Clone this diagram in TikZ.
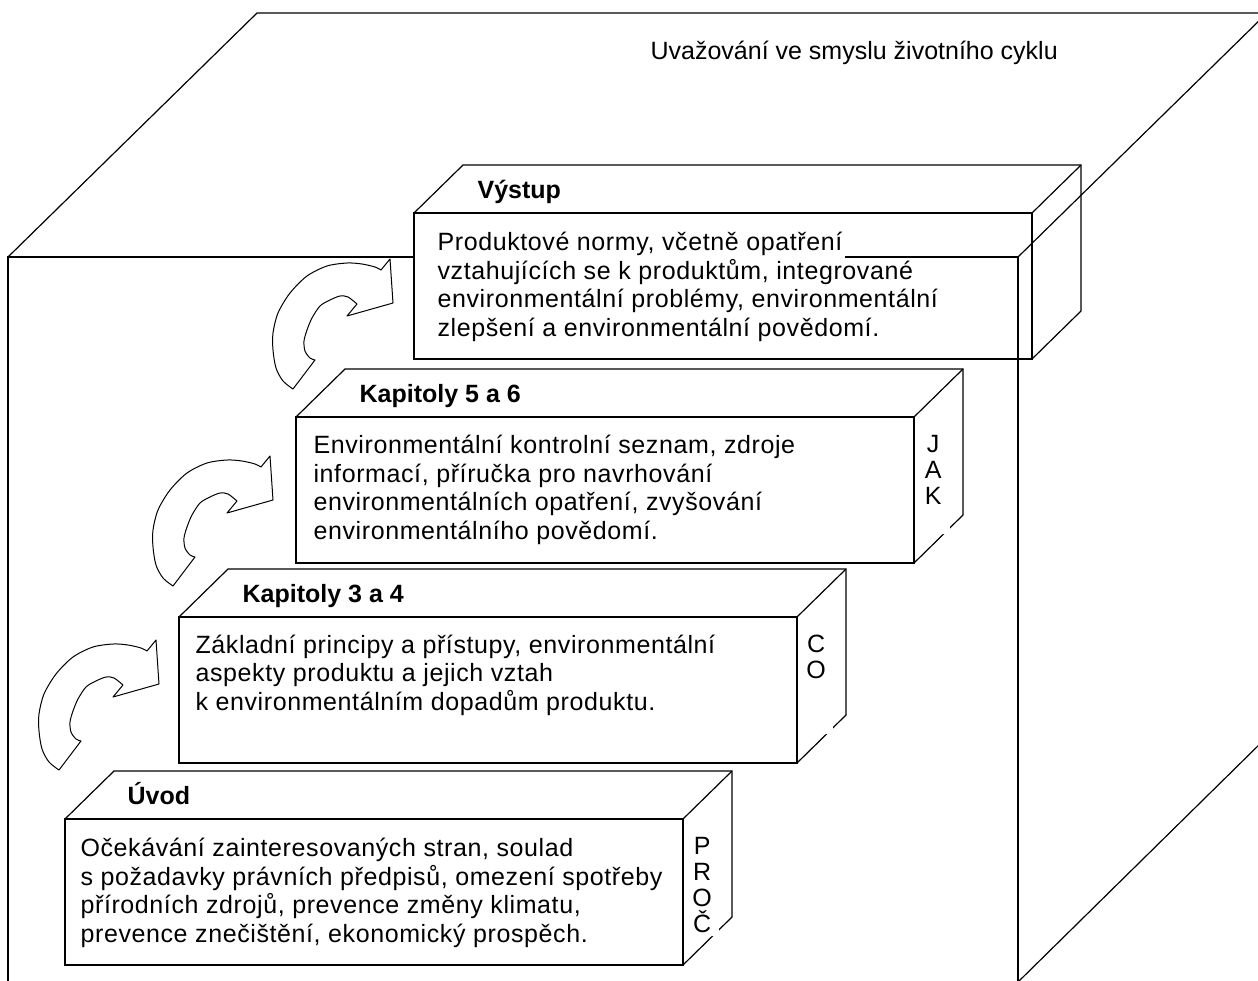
\documentclass[tikz,border=0pt]{standalone}
\usepackage{fontspec}
\setmainfont{Liberation Sans}
\newfontfamily\bodyfont[LetterSpace=2.4]{Liberation Sans}
\usetikzlibrary{positioning}

% letters on the side face of a step
\newcommand{\sidetext}[1]{\parbox[t][113pt][t]{33pt}{\centering\rule{0pt}{32pt}#1}}

\begin{document}
\begin{tikzpicture}[
    x=1pt, y=-1pt,
    line width=1.2pt,
    every node/.style={
        font=\fontsize{25}{28.5}\selectfont
    },
    front/.style={
        draw,
        rectangle,
        anchor=north west,
        minimum width=618pt,
        minimum height=146pt,
        inner sep=0pt,
        outer sep=0pt
    },
    title/.style={
        anchor=base west,
        inner sep=0pt,
        font=\fontsize{25}{28.5}\selectfont\bfseries
    },
    body/.style={
        anchor=base west,
        align=left,
        inner sep=0pt,
        font=\bodyfont\fontsize{25}{28.5}\selectfont
    },
    sidetag/.style={
        anchor=north west,
        inner sep=0pt,
        fill=white,
        font=\fontsize{25}{26}\selectfont
    },
    turn/.style={line width=1pt, line join=round}
]
\useasboundingbox (0,0) rectangle (1258,980);

%-----------------------------------------------
% OUTER CUBE: life cycle
%-----------------------------------------------
\draw (8,982) -- (8,257) -- (414,257);
\draw (845,257) -- (1018,257) -- (1018,982) -- (8,982);
\draw (8,257) -- (257,13) -- (1267,13);
\draw (1018,257) -- (1267,13) -- (1267,737) -- (1018,982);

\node[anchor=base west, inner sep=0pt] (lifecycle) at (650,59)
    {Uvažování ve smyslu životního cyklu};

%-----------------------------------------------
% STEPS: front faces
%-----------------------------------------------
\node[front] (vystup) at (414,213) {};
\node[front] (kap56)  at (296,417) {};
\node[front] (kap34)  at (179,617) {};
\node[front] (uvod)   at (65,819)  {};

% top and side faces
\foreach \b in {vystup, kap56, kap34, uvod} {
    \draw (\b.north west) -- ++(49,-48) -- ++(618,0) -- ++(0,146) -- (\b.south east);
    \draw (\b.north east) -- ++(49,-48);
}

%-----------------------------------------------
% TITLES
%-----------------------------------------------
\node[title] (vystupT) at ([shift={(63,-15)}]vystup.north west) {Výstup};
\node[title] (kap56T)  at ([shift={(63,-15)}]kap56.north west)  {Kapitoly 5 a 6};
\node[title] (kap34T)  at ([shift={(63,-15)}]kap34.north west)  {Kapitoly 3 a 4};
\node[title] (uvodT)   at ([shift={(62,-15)}]uvod.north west)   {Úvod};

%-----------------------------------------------
% TEXTS (anchored on the last line)
%-----------------------------------------------
\node[body] (vystupB) at ([shift={(23,123)}]vystup.north west)
    {Produktové normy, včetně opatření\\
     vztahujících se k produktům, integrované\\
     environmentální problémy, environmentální\\
     zlepšení a environmentální povědomí.};

\node[body] (kap56B) at ([shift={(17,122)}]kap56.north west)
    {Environmentální kontrolní seznam, zdroje\\
     informací, příručka pro navrhování\\
     environmentálních opatření, zvyšování\\
     environmentálního povědomí.};

\node[body] (kap34B) at ([shift={(16,93)}]kap34.north west)
    {Základní principy a přístupy, environmentální\\
     aspekty produktu a jejich vztah\\
     k environmentálním dopadům produktu.};

\node[body] (uvodB) at ([shift={(15,123)}]uvod.north west)
    {Očekávání zainteresovaných stran, soulad\\
     s požadavky právních předpisů, omezení spotřeby\\
     přírodních zdrojů, prevence změny klimatu,\\
     prevence znečištění, ekonomický prospěch.};

%-----------------------------------------------
% SIDE LETTERS
%-----------------------------------------------
\node[sidetag] (jak)  at ([shift={(2,3)}]kap56.north east) {\sidetext{J\\A\\K}};
\node[sidetag] (co)   at ([shift={(2,3)}]kap34.north east) {\sidetext{C\\O}};
\node[sidetag] (proc) at ([shift={(2,3)}]uvod.north east)  {\sidetext{P\\R\\O\\Č}};

%-----------------------------------------------
% CURVED ARROWS between the steps
%-----------------------------------------------
\foreach \hx/\hy in {390/259, 270/456, 156/640} {
    \draw[turn, shift={(\hx,\hy)}] (0,0) -- (3,44) -- (-43,57) -- (-33,45)
        -- plot[smooth] coordinates {(-33,45) (-42,38) (-50,37) (-60,41) (-70,47)
            (-78,59) (-83,71) (-86,82) (-85,92) (-80,99) (-75,101)}
        -- (-97,130)
        -- plot[smooth] coordinates {(-97,130) (-107,122) (-114,109) (-117,91)
            (-117,74) (-112,54) (-100,34) (-83,17) (-63,7) (-43,4) (-28,5) (-15,8) (-9,11)}
        -- cycle;
}

\end{tikzpicture}
\end{document}
